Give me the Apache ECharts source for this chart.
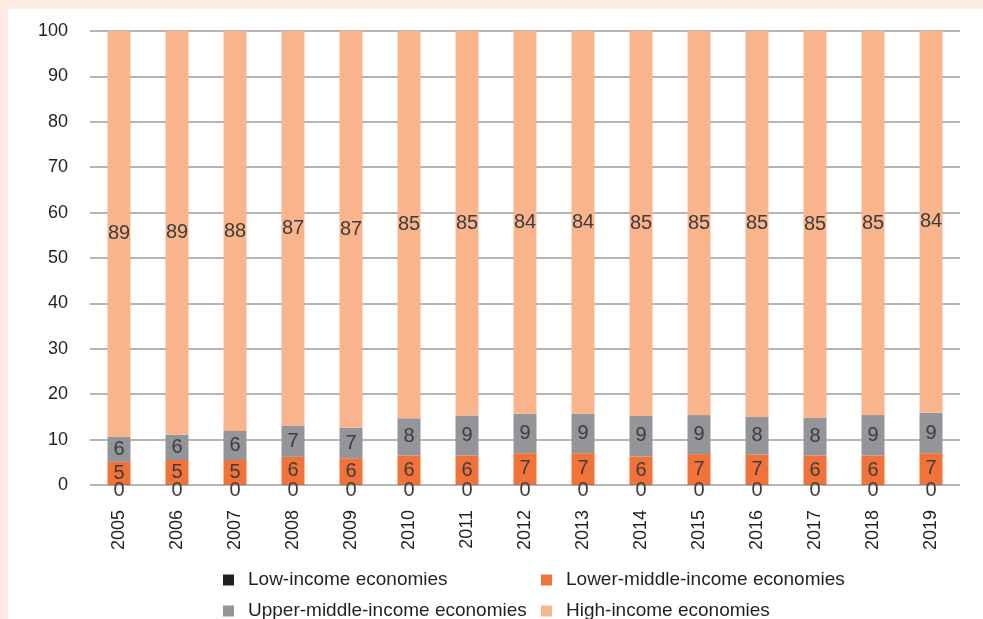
<!DOCTYPE html>
<html>
<head>
<meta charset="utf-8">
<script src="https://cdn.jsdelivr.net/npm/echarts@6/dist/echarts.min.js"></script>
<style>
  html, body { margin: 0; padding: 0; background: #fcece4; }
  #chart { width: 983px; height: 619px; }
</style>
</head>
<body>
<div id="chart"></div>
<script>
const years = ['2005','2006','2007','2008','2009','2010','2011','2012','2013','2014','2015','2016','2017','2018','2019'];
const lowIncome = [0.1,0.1,0.1,0.1,0.1,0.1,0.1,0.1,0.1,0.1,0.1,0.1,0.1,0.1,0.1];
const lowerMiddle = [5.0,5.4,5.4,6.1,5.8,6.4,6.4,6.9,6.9,6.2,6.7,6.6,6.4,6.4,6.9];
const upperMiddle = [5.5,5.6,6.4,6.9,6.7,8.2,8.8,8.7,8.7,9.0,8.6,8.3,8.3,8.9,8.9];
const highIncome = [89.4,88.9,88.1,86.9,87.4,85.3,84.7,84.3,84.3,84.7,84.6,85.0,85.2,84.6,84.1];
const yTicks = [0,10,20,30,40,50,60,70,80,90,100];
const seriesNames = ['Low-income economies','Lower-middle-income economies','Upper-middle-income economies','High-income economies'];

const font = "'Liberation Sans', Arial, sans-serif";
const labelColor = '#3c3c3e';
const roundFmt = p => String(Math.round(p.value));

const chart = echarts.init(document.getElementById('chart'), null, {renderer: 'canvas'});
function legendAt(name, left, top) {
  return {
    data: [name], left: left, top: top, orient: 'horizontal',
    icon: 'rect', itemWidth: 11, itemHeight: 11, padding: 0,
    textStyle: { fontFamily: font, fontSize: 19, lineHeight: 22, color: '#231f20', padding: [0,0,0,9] },
    selectedMode: false
  };
}
function barLabel(extra) {
  return Object.assign({ show: true, position: 'inside', formatter: roundFmt, fontFamily: font, fontSize: 20, color: labelColor }, extra || {});
}
chart.setOption({
  backgroundColor: '#fcece4',
  animation: false,
  graphic: [{ type: 'rect', left: 8, top: 9, shape: { width: 975, height: 610 }, style: { fill: '#ffffff' }, z: -100, silent: true }],
  grid: { left: 90, right: 23, top: 31, bottom: 134, containLabel: false },
  legend: [
    legendAt(seriesNames[0], 223, 569),
    legendAt(seriesNames[1], 541, 569),
    legendAt(seriesNames[2], 223, 600),
    legendAt(seriesNames[3], 541, 600)
  ],
  xAxis: {
    type: 'category', data: years, boundaryGap: true,
    axisLine: { show: false }, axisTick: { show: false },
    axisLabel: { rotate: 90, margin: 25, fontSize: 18, color: '#231f20', fontFamily: font }
  },
  yAxis: {
    type: 'value', min: yTicks[0], max: yTicks[yTicks.length-1], interval: 10,
    axisLine: { show: false }, axisTick: { show: false },
    splitLine: { lineStyle: { color: '#b5b5b5', width: 2 } },
    axisLabel: { margin: 22, fontSize: 18, color: '#231f20', fontFamily: font }
  },
  series: [
    { name: seriesNames[0], type: 'bar', stack: 's', data: lowIncome, barWidth: 23,
      itemStyle: { color: '#231f20' }, label: barLabel({ offset: [0, 6] }) },
    { name: seriesNames[1], type: 'bar', stack: 's', data: lowerMiddle, barWidth: 23,
      itemStyle: { color: '#f2733a' }, label: barLabel() },
    { name: seriesNames[2], type: 'bar', stack: 's', data: upperMiddle, barWidth: 23,
      itemStyle: { color: '#939598' }, label: barLabel() },
    { name: seriesNames[3], type: 'bar', stack: 's', data: highIncome, barWidth: 23,
      itemStyle: { color: '#f9b48c' }, label: barLabel() }
  ]
});
</script>
</body>
</html>
